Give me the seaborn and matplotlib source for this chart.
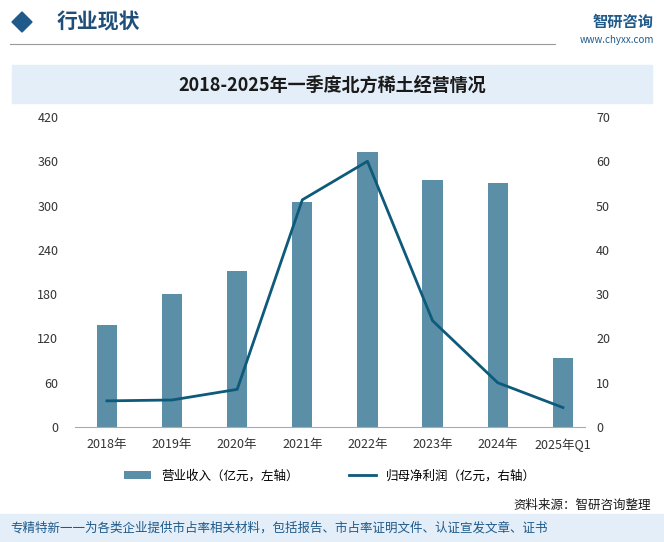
import matplotlib
matplotlib.use("Agg")
import matplotlib.pyplot as plt
import seaborn as sns
import pandas as pd
from matplotlib.patches import Rectangle, Polygon

plt.rcParams["font.family"] = "Noto Sans CJK SC"

years = ["2018年", "2019年", "2020年", "2021年", "2022年", "2023年", "2024年", "2025年Q1"]
revenue = [138, 180, 211, 305, 372, 335, 330, 93]
profit = [5.9, 6.1, 8.5, 51.3, 60.0, 24.0, 10.0, 4.4]
left_ticks = [0, 60, 120, 180, 240, 300, 360, 420]
right_ticks = [0, 10, 20, 30, 40, 50, 60, 70]

df = pd.DataFrame({"year": years, "revenue": revenue, "profit": profit})

W, H = 664, 542
fig = plt.figure(figsize=(W/100, H/100), dpi=100)

# header
fig.text(0.085, 1-22/H, "行业现状", fontsize=15, color="#1f4e79", fontweight="bold", va="center")
fig.add_artist(Polygon([[12/W, 1-22/H], [22/W, 1-12/H], [32/W, 1-22/H], [22/W, 1-32/H]],
                       closed=True, color="#1f5a8a", transform=fig.transFigure))
fig.add_artist(plt.Line2D([10/W, 555/W], [1-44/H, 1-44/H], color="#999999", lw=0.8, transform=fig.transFigure))
fig.text(0.985, 1-22/H, "智研咨询", fontsize=11, color="#1f5a8a", ha="right", va="center", fontweight="bold")
fig.text(0.985, 1-40/H, "www.chyxx.com", fontsize=7, color="#1f5a8a", ha="right", va="center")

# title band
fig.add_artist(Rectangle((12/W, 1-103/H), 640/W, 38/H, color="#e3eef8", transform=fig.transFigure))
fig.text(0.5, 1-85/H, "2018-2025年一季度北方稀土经营情况", fontsize=13, fontweight="bold",
         color="#1a1a1a", ha="center", va="center")

ax = fig.add_axes([75/W, 1-427/H, 510/W, 310/H])
sns.barplot(data=df, x="year", y="revenue", color="#5b8fa8", saturation=1, width=0.31, ax=ax,
            label="营业收入（亿元，左轴）")
ax.set_ylim(0, 420)
ax.set_yticks(left_ticks)
ax.set_xlabel(""); ax.set_ylabel("")
ax2 = ax.twinx()
sns.lineplot(x=list(range(len(years))), y=profit, color="#0e5a7a", lw=2, ax=ax2,
             label="归母净利润（亿元，右轴）", legend=False)
ax2.set_ylim(0, 70)
ax2.set_yticks(right_ticks)
for a in (ax, ax2):
    for s in a.spines.values():
        s.set_visible(False)
    a.tick_params(length=0, labelsize=9, colors="#333333")
ax.spines["bottom"].set_visible(True)
ax.spines["bottom"].set_color("#aaaaaa")
ax.tick_params(axis="x", pad=8)
ax.tick_params(axis="y", pad=12)
ax2.tick_params(axis="y", pad=8)
ax.set_xlim(-0.49, 7.34)

h1, l1 = ax.get_legend_handles_labels()
h2, l2 = ax2.get_legend_handles_labels()
ax.legend(h1+h2, l1+l2, loc="upper center", bbox_to_anchor=(0.5, -0.1), ncol=2, frameon=False,
          fontsize=9, handlelength=2.2, columnspacing=4)

fig.text(0.98, 1-505/H, "资料来源：智研咨询整理", fontsize=9, color="#1a1a1a", ha="right", va="center")
fig.add_artist(Rectangle((0, 0), 1, 28/H, color="#e3eef8", transform=fig.transFigure))
fig.text(0.015, 14/H, "专精特新一一为各类企业提供市占率相关材料，包括报告、市占率证明文件、认证宣发文章、证书",
         fontsize=9, color="#1f5a8a", va="center")

fig.savefig("out.png", dpi=100)
